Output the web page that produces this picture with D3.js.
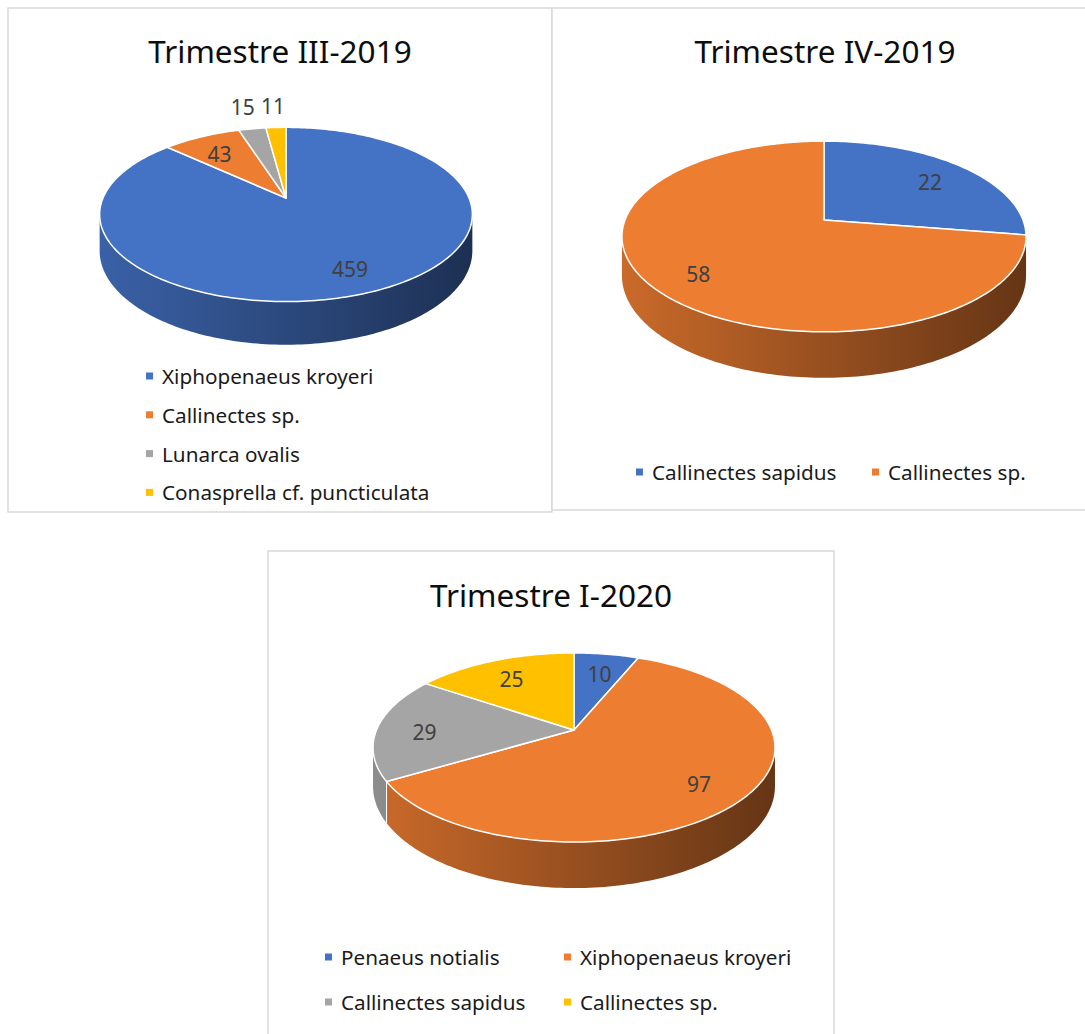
<!DOCTYPE html>
<html lang="es">
<head>
<meta charset="UTF-8">
<title>Trimestres - especies</title>
<style>
body { margin: 0; background: #fff; }
text { font-family: "Noto Sans", "Open Sans", sans-serif; }
.title { font-size: 31.5px; fill: #0d0d0d; }
.lbl { font-size: 21px; fill: #404040; }
.leg { font-size: 20.7px; fill: #1a1a1a; }
</style>
</head>
<body>
<svg width="1085" height="1034"></svg>
<script src="https://d3js.org/d3.v7.min.js"></script>
<script>
// datos
var colors = ["#4472c4", "#ed7d31", "#a5a5a5", "#ffc000"];
var titles = ["Trimestre III-2019", "Trimestre IV-2019", "Trimestre I-2020"];

var speciesT3 = ["Xiphopenaeus kroyeri", "Callinectes sp.", "Lunarca ovalis", "Conasprella cf. puncticulata"];
var valuesT3 = [459, 43, 15, 11];

var speciesT4 = ["Callinectes sapidus", "Callinectes sp."];
var valuesT4 = [22, 58];

var speciesT1 = ["Penaeus notialis", "Xiphopenaeus kroyeri", "Callinectes sapidus", "Callinectes sp."];
var valuesT1 = [10, 97, 29, 25];

var svg = d3.select("svg");
var defs = svg.append("defs");
var color = d3.scaleOrdinal().domain([0, 1, 2, 3]).range(colors);
var pie = d3.pie().sort(null).value(function(d) { return d; });

// layout de cada panel (pie en perspectiva)
var charts = [
    { title: titles[0], names: speciesT3, values: valuesT3,
      box: [8, 8, 544, 504], tx: 280, ty: 63,
      cx: 286, cy: 198, kx: 183, ky: 84, p: 0.189, depth: 35,
      legend: "column", lx: 146, ly: 376, lstep: 38.8 },
    { title: titles[1], names: speciesT4, values: valuesT4,
      box: [552, 8, 560, 502], tx: 825, ty: 63,
      cx: 824, cy: 220, kx: 199, ky: 92.5, p: 0.173, depth: 38,
      legend: "grid", lxs: [636, 872], lys: [472] },
    { title: titles[2], names: speciesT1, values: valuesT1,
      box: [268, 551, 566, 520], tx: 551, ty: 607,
      cx: 574, cy: 730, kx: 197.5, ky: 91.3, p: 0.185, depth: 37.5,
      legend: "grid", lxs: [325, 564], lys: [957, 1002] }
];

charts.forEach(function(c, ci) {
    var g = svg.append("g");

    g.append("rect")
        .attr("x", c.box[0]).attr("y", c.box[1])
        .attr("width", c.box[2]).attr("height", c.box[3])
        .attr("fill", "#fff")
        .attr("stroke", "#d9d9d9")
        .attr("stroke-width", 1.5);

    g.append("text")
        .attr("class", "title")
        .attr("x", c.tx).attr("y", c.ty)
        .attr("text-anchor", "middle")
        .text(c.title);

    // proyeccion: punto (u, v) del disco unidad -> pantalla
    function proj(u, v, drop) {
        var w = 1 + c.p * v;
        return [c.cx + c.kx * u / w, c.cy - c.ky * v / w + (drop || 0) / w];
    }
    function ptAt(a, r, drop) {
        return proj(r * Math.sin(a), r * Math.cos(a), drop);
    }
    function arcPts(a0, a1, drop) {
        var n = Math.max(2, Math.ceil((a1 - a0) / 0.02)), pts = [];
        for (var i = 0; i <= n; i++) pts.push(ptAt(a0 + (a1 - a0) * i / n, 1, drop));
        return pts;
    }
    var line = d3.line();

    var arcs = pie(c.values);
    var total = d3.sum(c.values);

    // gradientes de los lados
    c.values.forEach(function(v, i) {
        var base = d3.rgb(color(i));
        var grad = defs.append("linearGradient")
            .attr("id", "side" + ci + "_" + i)
            .attr("gradientUnits", "userSpaceOnUse")
            .attr("x1", c.cx - c.kx * 1.02).attr("x2", c.cx + c.kx * 1.02)
            .attr("y1", 0).attr("y2", 0);
        grad.append("stop").attr("offset", "0%").attr("stop-color", base.darker(0.45));
        grad.append("stop").attr("offset", "100%").attr("stop-color", base.darker(2.4));
    });

    // lado visible (frente del cilindro)
    var visA = Math.acos(-c.p), visB = 2 * Math.PI - visA;
    arcs.forEach(function(d) {
        var a0 = Math.max(d.startAngle, visA), a1 = Math.min(d.endAngle, visB);
        if (a1 <= a0) return;
        var top = arcPts(a0, a1, 0), bot = arcPts(a0, a1, c.depth).reverse();
        g.append("path")
            .attr("d", line(top.concat(bot)) + "Z")
            .attr("fill", "url(#side" + ci + "_" + d.index + ")");
    });
    arcs.forEach(function(d) {
        var a = d.startAngle;
        if (a > visA && a < visB) {
            var p0 = ptAt(a, 1, 0), p1 = ptAt(a, 1, c.depth);
            g.append("line")
                .attr("x1", p0[0]).attr("y1", p0[1])
                .attr("x2", p1[0]).attr("y2", p1[1])
                .attr("stroke", "#fff").attr("stroke-width", 1);
        }
    });

    // cara superior
    arcs.forEach(function(d) {
        var pts = [proj(0, 0)].concat(arcPts(d.startAngle, d.endAngle, 0));
        g.append("path")
            .attr("d", line(pts) + "Z")
            .attr("fill", color(d.index))
            .attr("stroke", "#fff")
            .attr("stroke-width", 1.5)
            .attr("stroke-linejoin", "round");
    });

    // etiquetas de datos (las porciones pequenas van fuera)
    arcs.forEach(function(d) {
        var mid = (d.startAngle + d.endAngle) / 2;
        var small = d.value / total < 0.05;
        var pt = ptAt(mid, small ? 1.35 : 0.76, 0);
        g.append("text")
            .attr("class", "lbl")
            .attr("x", pt[0]).attr("y", pt[1] + (small ? -2 : 4))
            .attr("text-anchor", "middle")
            .attr("dominant-baseline", "central")
            .text(d.value);
    });

    // leyenda
    c.names.forEach(function(name, i) {
        var x, y;
        if (c.legend === "column") {
            x = c.lx; y = c.ly + i * c.lstep;
        } else {
            x = c.lxs[i % c.lxs.length];
            y = c.lys[Math.floor(i / c.lxs.length)];
        }
        g.append("rect")
            .attr("x", x).attr("y", y - 3.5)
            .attr("width", 7).attr("height", 7)
            .attr("fill", color(i));
        g.append("text")
            .attr("class", "leg")
            .attr("x", x + 16).attr("y", y)
            .attr("dominant-baseline", "central")
            .text(name);
    });
});
</script>
</body>
</html>
